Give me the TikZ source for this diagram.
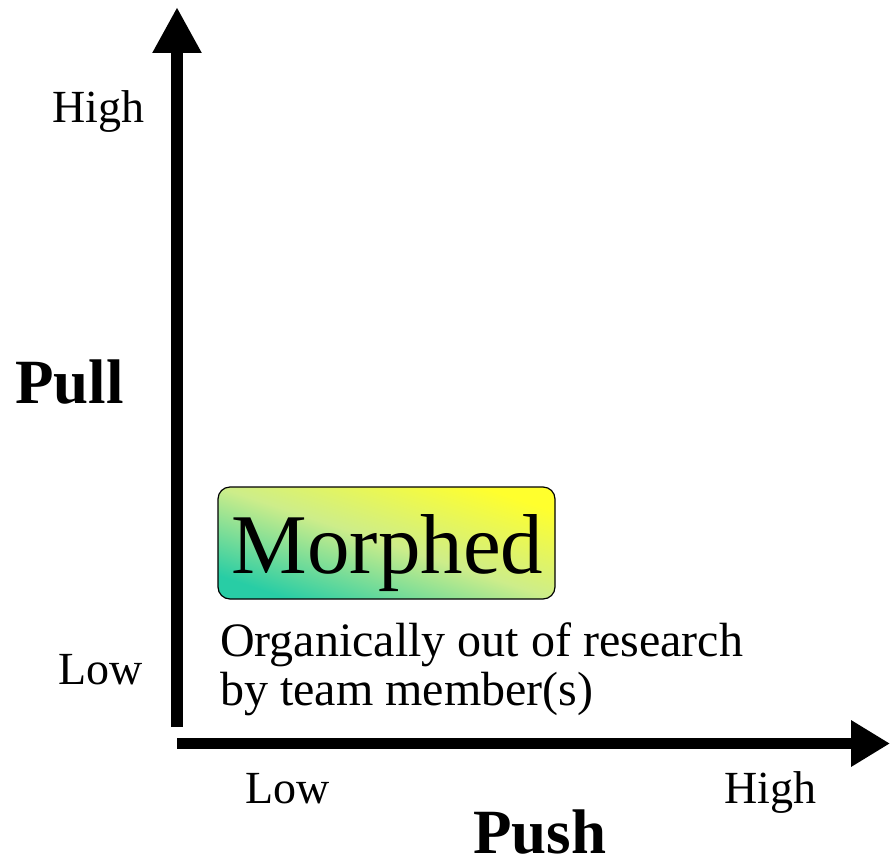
\documentclass[tikz,border=0pt]{standalone}
\usepackage{fontspec}
\setmainfont{Liberation Serif}
\usetikzlibrary{arrows.meta}
\definecolor{teal1}{RGB}{40,205,165}
\definecolor{yel1}{RGB}{255,255,45}
\definecolor{mid1}{RGB}{205,237,138}
\tikzset{
  axisline/.style={line width=12pt, line cap=butt},
  ticklabel/.style={inner sep=0pt, anchor=base west, font=\fontsize{46}{54}\selectfont},
  bigtitle/.style={inner sep=0pt, anchor=base west, font=\bfseries\fontsize{63}{72}\selectfont},
  bodytext/.style={inner sep=0pt, anchor=base west, font=\fontsize{48}{56}\selectfont},
  morphbox/.style={draw=black, line width=1.2pt, rounded corners=12pt, minimum width=337pt, minimum height=112pt, inner sep=0pt,
     bottom color=teal1, top color=yel1, middle color=mid1, shading angle=-18.4}
}
\begin{document}
\begin{tikzpicture}[x=1pt,y=-1pt]
\useasboundingbox (0,0) rectangle (890,859);
% axes
\coordinate (vstart) at (177,727);
\coordinate (vend) at (177,7);
\coordinate (hstart) at (177,743.5);
\coordinate (hend) at (890,743.5);
\draw[axisline, -{Triangle[width=46pt,length=46pt]}] (vstart) -- (vend);
\draw[axisline, line width=11pt, -{Triangle[width=44pt,length=39pt]}] (hstart) -- (hend);
% labels
\node[ticklabel] (yhigh) at (52,122) {High};
\node[ticklabel] (ylow) at (58,684) {Low};
\node[ticklabel] (xlow) at (245,803) {Low};
\node[ticklabel] (xhigh) at (724,803) {High};
\node[bigtitle] (pull) at (15,403) {Pull};
\node[bigtitle] (push) at (473,853) {Push};
% box
\node[morphbox] (box) at (386.5,543) {};
\node[inner sep=0pt, anchor=base, font=\fontsize{85}{95}\selectfont] (morph) at (387.5,573) {Morphed};
\node[bodytext] (desc1) at (220,656) {Organically out of research};
\node[bodytext] (desc2) at (220,705) {by team member(s)};
\end{tikzpicture}
\end{document}
